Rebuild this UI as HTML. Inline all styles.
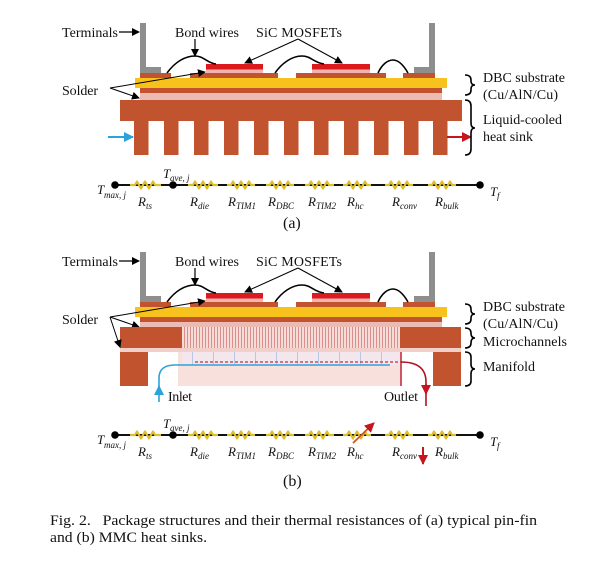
<!DOCTYPE html>
<html><head><meta charset="utf-8"><style>
html,body{margin:0;padding:0;background:#fff;}
svg{display:block;}
text{font-family:"Liberation Serif","DejaVu Serif",serif;fill:#111;}
.it{font-style:italic;}
</style></head><body>
<svg width="600" height="566" viewBox="0 0 600 566" xmlns="http://www.w3.org/2000/svg">
<defs>
<marker id="ah" markerWidth="8" markerHeight="8" refX="7" refY="4" orient="auto" markerUnits="userSpaceOnUse"><path d="M0,0 L8,4 L0,8 Z" fill="#000"/></marker>
<marker id="ahb" markerWidth="10" markerHeight="10" refX="9" refY="5" orient="auto" markerUnits="userSpaceOnUse"><path d="M0,0 L10,5 L0,10 Z" fill="#2aa3dc"/></marker>
<marker id="ahr" markerWidth="10" markerHeight="10" refX="9" refY="5" orient="auto" markerUnits="userSpaceOnUse"><path d="M0,0 L10,5 L0,10 Z" fill="#c8141e"/></marker>
<marker id="aho" markerWidth="10" markerHeight="10" refX="9" refY="5" orient="auto" markerUnits="userSpaceOnUse"><path d="M0,0 L10,5 L0,10 Z" fill="#c8141e"/></marker>
<pattern id="mc" width="3" height="10" patternUnits="userSpaceOnUse"><rect width="3" height="10" fill="#f6dcd8"/><rect x="1" width="1" height="10" fill="#d9908a"/></pattern>
<pattern id="mf" width="21" height="14" patternUnits="userSpaceOnUse" x="182"><rect width="21" height="14" fill="#f3e6ec"/><rect x="10" width="1" height="14" fill="#b8c8e4"/></pattern>
<g id="top">
  <rect x="140" y="23" width="6" height="50" fill="#8e8e8e"/>
  <rect x="140" y="67" width="21" height="6" fill="#8e8e8e"/>
  <rect x="429" y="23" width="6" height="50" fill="#8e8e8e"/>
  <rect x="414" y="67" width="21" height="6" fill="#8e8e8e"/>
  <rect x="140" y="73" width="31" height="5" fill="#c1532f"/>
  <rect x="190" y="73" width="88" height="5" fill="#c1532f"/>
  <rect x="296" y="73" width="90" height="5" fill="#c1532f"/>
  <rect x="403" y="73" width="32" height="5" fill="#c1532f"/>
  <rect x="206" y="69" width="57" height="4" fill="#f2b4ae"/>
  <rect x="312" y="69" width="58" height="4" fill="#f2b4ae"/>
  <rect x="206" y="64" width="57" height="5.5" fill="#dc1a1e"/>
  <rect x="312" y="64" width="58" height="5.5" fill="#dc1a1e"/>
  <rect x="135" y="78" width="312" height="10" fill="#f8c21c"/>
  <rect x="140" y="88" width="302" height="5" fill="#c1532f"/>
  <path d="M167,73 C175,62 185,56 195,56 C204,56 207,63 216,64" fill="none" stroke="#000" stroke-width="1.6"/>
  <path d="M275,73 C282,63 292,56 302,56 C311,56 314,63 324,64" fill="none" stroke="#000" stroke-width="1.6"/>
  <path d="M378,73 C382,64 388,60 393,60 C399,60 404,66 408,73" fill="none" stroke="#000" stroke-width="1.6"/>
  <text x="62" y="37" font-size="14" textLength="56">Terminals</text>
  <line x1="119" y1="32" x2="139" y2="32" stroke="#000" stroke-width="1.2" marker-end="url(#ah)"/>
  <text x="175" y="37" font-size="14" textLength="64">Bond wires</text>
  <line x1="195" y1="39" x2="195" y2="56" stroke="#000" stroke-width="1.2" marker-end="url(#ah)"/>
  <text x="256" y="37" font-size="14" textLength="86">SiC MOSFETs</text>
  <line x1="298" y1="39" x2="245" y2="63" stroke="#000" stroke-width="1" marker-end="url(#ah)"/>
  <line x1="298" y1="39" x2="342" y2="63" stroke="#000" stroke-width="1" marker-end="url(#ah)"/>
  <text x="62" y="95" font-size="14" textLength="36">Solder</text>
  <line x1="110" y1="88" x2="205" y2="72" stroke="#000" stroke-width="1" marker-end="url(#ah)"/>
  <line x1="110" y1="88" x2="139" y2="98" stroke="#000" stroke-width="1" marker-end="url(#ah)"/>
  <text x="483" y="82" font-size="14" textLength="82">DBC substrate</text>
  <text x="483" y="99" font-size="14" textLength="75">(Cu/AlN/Cu)</text>
  <path d="M465,75 Q471,75 471,80 L471,81 Q471,85 475,85 Q471,85 471,89 L471,90 Q471,95 465,95" fill="none" stroke="#000" stroke-width="1.6"/>
</g>
<g id="chain">
<line x1="115" y1="185" x2="480" y2="185" stroke="#111" stroke-width="2"/>
<g fill="none" stroke="#e0c02a" stroke-width="2.2" stroke-linejoin="round">
<polyline points="130,185 135,185 137,181.5 141,188.5 145,181.5 149,188.5 153,181.5 155,185 161,185"/>
<polyline points="188,185 193,185 195,181.5 199,188.5 203,181.5 207,188.5 211,181.5 213,185 218,185"/>
<polyline points="227,185 231,185 233,181.5 237,188.5 241,181.5 245,188.5 249,181.5 251,185 255,185"/>
<polyline points="266,185 270,185 272,181.5 276,188.5 280,181.5 284,188.5 288,181.5 290,185 294,185"/>
<polyline points="305,185 309,185 311,181.5 315,188.5 319,181.5 323,188.5 327,181.5 329,185 334,185"/>
<polyline points="343,185 347,185 349,181.5 353,188.5 357,181.5 361,188.5 365,181.5 367,185 371,185"/>
<polyline points="385,185 389,185 391,181.5 395,188.5 399,181.5 403,188.5 407,181.5 409,185 413,185"/>
<polyline points="428,185 432,185 434,181.5 438,188.5 442,181.5 446,188.5 450,181.5 452,185 456,185"/>
</g>
<circle cx="115" cy="185" r="3.8" fill="#000"/>
<circle cx="173" cy="185" r="3.8" fill="#000"/>
<circle cx="480" cy="185" r="3.8" fill="#000"/>
<text x="97" y="194" font-size="13" class="it">T</text><text x="104" y="198" font-size="9" class="it">max, j</text>
<text x="163" y="178" font-size="13" class="it">T</text><text x="170" y="181" font-size="9" class="it">ave, j</text>
<text x="490" y="196" font-size="13" class="it">T</text><text x="497" y="199" font-size="9" class="it">f</text>
<text x="138" y="206" font-size="13" class="it">R<tspan font-size="9" dy="3">ts</tspan></text>
<text x="190" y="206" font-size="13" class="it">R<tspan font-size="9" dy="3">die</tspan></text>
<text x="228" y="206" font-size="13" class="it">R<tspan font-size="9" dy="3">TIM1</tspan></text>
<text x="268" y="206" font-size="13" class="it">R<tspan font-size="9" dy="3">DBC</tspan></text>
<text x="308" y="206" font-size="13" class="it">R<tspan font-size="9" dy="3">TIM2</tspan></text>
<text x="347" y="206" font-size="13" class="it">R<tspan font-size="9" dy="3">hc</tspan></text>
<text x="392" y="206" font-size="13" class="it">R<tspan font-size="9" dy="3">conv</tspan></text>
<text x="435" y="206" font-size="13" class="it">R<tspan font-size="9" dy="3">bulk</tspan></text>
</g>
</defs>

<!-- ===== (a) ===== -->
<use href="#top"/>
<rect x="140" y="93" width="302" height="7" fill="#ecbcb4"/>
<rect x="120" y="100" width="342" height="21" fill="#c1532f"/>
<g fill="#c1532f">
<rect x="134" y="121" width="14.5" height="34"/><rect x="164" y="121" width="14.5" height="34"/>
<rect x="194" y="121" width="14.5" height="34"/><rect x="224" y="121" width="14.5" height="34"/>
<rect x="254" y="121" width="14.5" height="34"/><rect x="284" y="121" width="14.5" height="34"/>
<rect x="314" y="121" width="14.5" height="34"/><rect x="344" y="121" width="14.5" height="34"/>
<rect x="374" y="121" width="14.5" height="34"/><rect x="404" y="121" width="14.5" height="34"/>
<rect x="433" y="121" width="14.5" height="34"/>
</g>
<line x1="108" y1="137" x2="133" y2="137" stroke="#2aa3dc" stroke-width="2" marker-end="url(#ahb)"/>
<line x1="447" y1="137" x2="471" y2="137" stroke="#c8141e" stroke-width="2" marker-end="url(#ahr)"/>
<text x="483" y="124" font-size="14" textLength="79">Liquid-cooled</text>
<text x="483" y="141" font-size="14" textLength="50">heat sink</text>
<path d="M465,100 Q471,100 471,106 L471,123 Q471,128 475,128 Q471,128 471,133 L471,149 Q471,155 465,155" fill="none" stroke="#000" stroke-width="1.6"/>

<use href="#chain"/>
<text x="283" y="228" font-size="16">(a)</text>

<!-- ===== (b) ===== -->
<g transform="translate(0,229)"><use href="#top"/></g>
<rect x="140" y="322" width="302" height="5" fill="#ecbcb4"/>
<rect x="120" y="327" width="62" height="21" fill="#c1532f"/>
<rect x="182" y="327" width="218" height="21" fill="url(#mc)"/>
<rect x="400" y="327" width="61" height="21" fill="#c1532f"/>
<rect x="120" y="348" width="341" height="4" fill="#f2d0ca"/>
<rect x="120" y="352" width="28" height="34" fill="#c1532f"/>
<rect x="433" y="352" width="28" height="34" fill="#c1532f"/>
<rect x="178" y="352" width="223" height="34" fill="#f8e0dc"/>
<rect x="182" y="352" width="218" height="13" fill="url(#mf)"/>
<line x1="195" y1="362" x2="401" y2="362" stroke="#c03040" stroke-width="1.2" stroke-dasharray="3,2"/>
<line x1="401" y1="352" x2="401" y2="386" stroke="#c03040" stroke-width="1.6"/>
<path d="M159,402 L159,378 Q159,365 175,365 L390,365" fill="none" stroke="#2aa3dc" stroke-width="1.6"/>
<path d="M159,392 L159,386" stroke="#2aa3dc" stroke-width="1.6" marker-end="url(#ahb)"/>
<path d="M401,362 Q426,362 426,382 L426,406" fill="none" stroke="#b0141e" stroke-width="1.6"/>
<path d="M426,384 L426,394" stroke="#b0141e" stroke-width="1.6" marker-end="url(#ahr)"/>
<text x="168" y="401" font-size="14" textLength="24">Inlet</text>
<text x="384" y="401" font-size="14" textLength="34">Outlet</text>
<line x1="110" y1="317" x2="120" y2="347" stroke="#000" stroke-width="1" marker-end="url(#ah)"/>
<text x="483" y="346" font-size="14" textLength="84">Microchannels</text>
<text x="483" y="371" font-size="14" textLength="52">Manifold</text>
<path d="M465,328 Q471,328 471,333 Q471,338 475,338 Q471,338 471,343 Q471,348 465,348" fill="none" stroke="#000" stroke-width="1.6"/>
<path d="M465,352 Q471,352 471,357 L471,364 Q471,369 475,369 Q471,369 471,374 L471,381 Q471,386 465,386" fill="none" stroke="#000" stroke-width="1.6"/>

<g transform="translate(0,250)"><use href="#chain"/></g>
<line x1="353" y1="443" x2="374" y2="423" stroke="#d4501e" stroke-width="1.8" marker-end="url(#aho)"/>
<line x1="423" y1="447" x2="423" y2="464" stroke="#c8141e" stroke-width="2" marker-end="url(#ahr)"/>
<text x="283" y="486" font-size="16">(b)</text>

<!-- caption -->
<text x="50" y="525" font-size="14.5" textLength="487" lengthAdjust="spacingAndGlyphs">Fig. 2.&#160;&#160;&#160;Package structures and their thermal resistances of (a) typical pin-fin</text>
<text x="50" y="542" font-size="14.5" textLength="157" lengthAdjust="spacingAndGlyphs">and (b) MMC heat sinks.</text>
</svg>
</body></html>
